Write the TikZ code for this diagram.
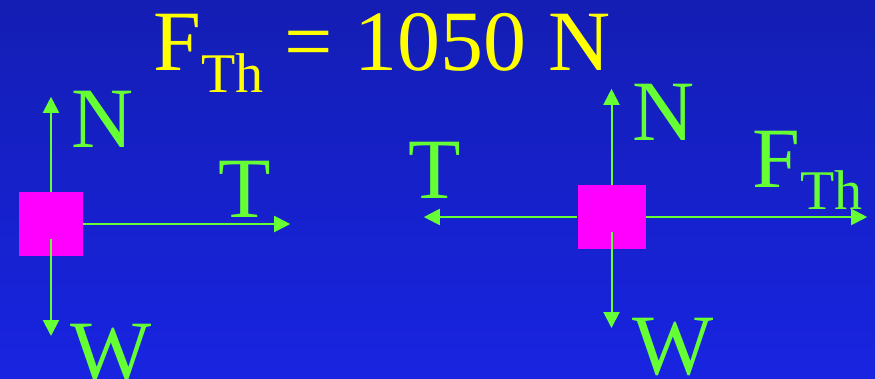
\documentclass[tikz,border=0pt]{standalone}
\usepackage{fontspec}
\setmainfont{Liberation Serif}
\usetikzlibrary{arrows.meta, positioning}
\definecolor{fbdgreen}{RGB}{102,255,51}
\definecolor{fbdpink}{RGB}{255,0,255}
\definecolor{fbdyellow}{RGB}{255,255,0}
\definecolor{bgtop}{RGB}{20,30,180}
\definecolor{bgbottom}{RGB}{24,36,224}
\newcommand{\subTh}{\raisebox{-22pt}{\fontsize{56}{56}\selectfont Th}}

\begin{document}
\begin{tikzpicture}[
        x=1pt, y=-1pt,
        block/.style   ={fill=fbdpink, inner sep=0pt,
                         minimum width=64pt, minimum height=64pt},
        forcelbl/.style={text=fbdgreen, inner sep=0pt, anchor=base west,
                         font=\fontsize{86}{86}\selectfont},
        arrow/.style   ={-{Triangle[length=16pt, width=16pt]},
                         draw=fbdgreen, line width=2pt}
    ]

    % --- fundo ---
    \shade[top color=bgtop, bottom color=bgbottom] (0,0) rectangle (875,378);
    \useasboundingbox (0,0) rectangle (875,378);

    % --- titulo ---
    \node[forcelbl, text=fbdyellow] (title) at (153,70) {F\subTh{} = 1050 N};

    % --- blocos ---
    \node[block] (boxL) at (51,224) {};
    \node[block, minimum width=68pt] (boxR) at (611.5,217) {};

    % --- pontas ---
    \coordinate[above=95pt of boxL.north]   (nL);
    \coordinate[below=15pt of boxL.center]  (wL0);
    \coordinate[below=112pt of boxL.center] (wL);
    \coordinate[right=207pt of boxL.east]   (tL);

    \coordinate[above=96pt of boxR.north]   (nR);
    \coordinate[below=15pt of boxR.center]  (wR0);
    \coordinate[below=111pt of boxR.center] (wR);
    \coordinate[left=153.5pt of boxR.west]  (tR);
    \coordinate[right=221.5pt of boxR.east] (fR);

    % --- setas ---
    \draw[arrow] (boxL.north) -- (nL);
    \draw[arrow] (wL0) -- (wL);
    \draw[arrow] (boxL.east) -- (tL);

    \draw[arrow] (boxR.north) -- (nR);
    \draw[arrow] (wR0) -- (wR);
    \draw[arrow] (boxR.west) -- (tR);
    \draw[arrow] (boxR.east) -- (fR);

    % --- rotulos ---
    \node[forcelbl] (labNL) at (71,147)  {N};
    \node[forcelbl] (labTL) at (218,217) {T};
    \node[forcelbl] (labWL) at (70,380)  {W};

    \node[forcelbl] (labNR) at (632,140) {N};
    \node[forcelbl] (labTR) at (408,198) {T};
    \node[forcelbl] (labFR) at (752,187) {F\subTh};
    \node[forcelbl] (labWR) at (632,374) {W};

    \end{tikzpicture}
\end{document}
